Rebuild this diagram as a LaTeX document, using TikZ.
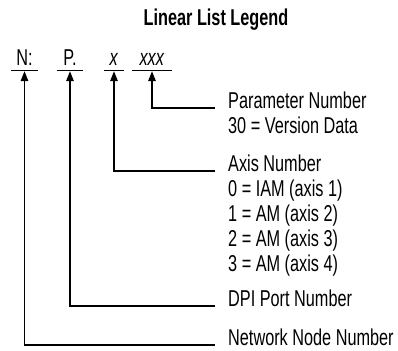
\documentclass[tikz,border=0pt]{standalone}
\usepackage{fontspec}
\setmainfont{Liberation Sans}[FakeStretch=0.71]
\usetikzlibrary{arrows.meta}

\begin{document}
\begin{tikzpicture}
[
	x=1bp,y=-1bp,
	font=\fontsize{23}{25}\selectfont,
	field/.style={anchor=base,inner xsep=0pt,inner ysep=5bp},
	desc/.style={anchor=base west,inner sep=0pt},
	legarrow/.style={line width=1.3bp,-{Triangle[length=10bp,width=7.5bp]},shorten >=1bp},
	uline/.style={line width=1.3bp}
]

	\useasboundingbox (0,0) rectangle (398,351);

	% title
	\node[font=\fontsize{23}{25}\selectfont\bfseries,anchor=base] (title) at (216,25) {Linear List Legend};

	% fields
	\node[field,minimum width=26bp] (nlab) at (24.5,65) {N:};
	\node[field,minimum width=26bp] (plab) at (70,65) {P.};
	\node[field,minimum width=20bp] (xlab) at (114,65) {\textit{x}};
	\node[field,minimum width=40bp] (xxxlab) at (152,65) {\textit{xxx}};

	\foreach \f in {nlab,plab,xlab,xxxlab}
		\draw[uline] (\f.south west) -- (\f.south east);

	% legend texts
	\node[desc] (parnum) at (228,108) {Parameter Number};
	\node[desc] (verdata) at (228,133) {30 = Version Data};
	\node[desc] (axisnum) at (228,171) {Axis Number};
	\node[desc] (axisa) at (228,196) {0 = IAM (axis 1)};
	\node[desc] (axisb) at (228,221) {1 = AM (axis 2)};
	\node[desc] (axisc) at (228,246) {2 = AM (axis 3)};
	\node[desc] (axisd) at (228,271) {3 = AM (axis 4)};
	\node[desc] (portnum) at (228,306) {DPI Port Number};
	\node[desc] (nodenum) at (228,345) {Network Node Number};

	% connectors
	\draw[legarrow] ([xshift=-13bp]parnum.base west) -| (xxxlab.south);
	\draw[legarrow] ([xshift=-13bp]axisnum.base west) -| (xlab.south);
	\draw[legarrow] ([xshift=-13bp]portnum.base west) -| (plab.south);
	\draw[legarrow] ([xshift=-13bp]nodenum.base west) -| (nlab.south);

\end{tikzpicture}
\end{document}
